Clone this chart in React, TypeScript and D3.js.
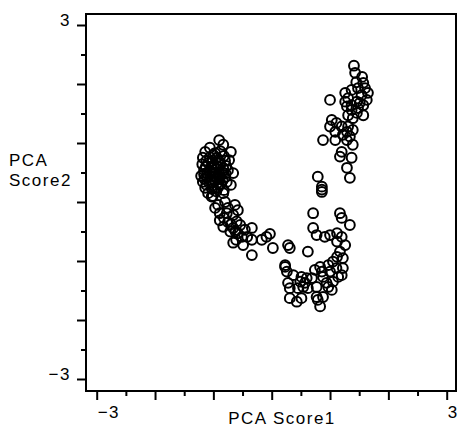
import * as d3 from 'd3'
import { useEffect, useRef } from 'react'

const W = 459
const H = 429

// axis ticks (every 0.5, labels only at the ends)
const majorTicks = [-3, -2, -1, 0, 1, 2, 3]
const minorTicks = [-2.5, -1.5, -0.5, 0.5, 1.5, 2.5]
const endLabels = [-3, 3]
const xTitle = 'PCA Score1'
const yTitle = ['PCA', 'Score2']

// scores, grouped by where they sit
const leftBlob: [number, number][] = [
  [-0.90, 1.05], [-0.83, 0.97], [-0.70, 0.85], [-1.14, 0.85], [-0.97, 0.83], [-1.06, 0.92],
  [-1.18, 0.75], [-1.06, 0.76], [-0.94, 0.75], [-0.82, 0.78], [-0.73, 0.71],
  [-1.19, 0.64], [-1.09, 0.66], [-0.99, 0.63], [-0.89, 0.66], [-0.78, 0.61],
  [-1.16, 0.54], [-1.06, 0.53], [-0.95, 0.56], [-0.85, 0.51], [-0.75, 0.54],
  [-1.21, 0.44], [-1.11, 0.42], [-1.01, 0.44], [-0.90, 0.41], [-0.80, 0.42],
  [-1.18, 0.34], [-1.07, 0.32], [-0.97, 0.36], [-0.87, 0.31], [-0.77, 0.34],
  [-1.14, 0.24], [-1.02, 0.22], [-0.92, 0.25], [-0.82, 0.20],
  [-0.66, 0.49], [-1.09, 0.15], [-0.83, 0.15], [-0.70, 0.29], [-1.01, 0.10],
  [-1.12, 0.70], [-1.01, 0.70], [-0.91, 0.71], [-0.80, 0.70], [-1.13, 0.60],
  [-1.03, 0.58], [-0.92, 0.60], [-0.83, 0.57], [-1.11, 0.49], [-1.00, 0.49],
  [-0.90, 0.47], [-0.79, 0.48], [-1.15, 0.39], [-1.04, 0.38], [-0.94, 0.39],
  [-0.84, 0.37], [-1.12, 0.29], [-1.01, 0.28], [-0.90, 0.29], [-0.95, 0.18],
  [-1.00, 0.80], [-0.88, 0.86], [-1.16, 0.47], [-0.97, 0.50],
]

const leftArm: [number, number][] = [
  [-1.03, 0.09], [-0.92, -0.05], [-0.80, 0.00], [-0.63, -0.05], [-0.97, -0.10],
  [-0.89, -0.19], [-0.77, -0.19], [-0.66, -0.22], [-0.89, -0.31], [-0.75, -0.34],
  [-0.60, -0.33], [-0.54, -0.39], [-0.83, -0.42], [-0.66, -0.44], [-0.71, -0.50],
  [-0.58, -0.53], [-0.51, -0.59], [-0.66, -0.69], [-0.49, -0.73], [-0.34, -0.44],
  [-0.34, -0.64], [-0.17, -0.64], [-0.09, -0.59], [-0.03, -0.54], [0.02, -0.78],
  [-0.34, -0.90], [0.23, -1.07], [0.28, -0.73], [0.31, -0.78],
  [-0.75, -0.10], [-0.58, -0.14], [-0.82, -0.27], [-0.46, -0.47], [-0.61, -0.64], [-0.42, -0.59],
  [-0.70, -0.38], [-0.62, -0.50],
]

const bottomBend: [number, number][] = [
  [0.71, -0.19], [1.17, -0.19], [1.20, -0.27], [1.34, -0.39], [0.71, -0.44],
  [0.77, -0.56], [0.91, -0.59], [1.00, -0.56], [1.12, -0.53], [1.20, -0.59],
  [1.12, -0.67], [1.26, -0.73], [1.17, -0.84], [1.12, -0.93], [1.22, -0.95],
  [0.62, -0.84], [1.05, -1.01], [0.97, -1.07], [0.83, -1.10], [0.74, -1.15],
  [0.86, -1.18], [1.00, -1.18], [1.11, -1.12], [1.14, -1.27], [1.05, -1.35],
  [0.97, -1.44], [1.03, -1.49], [0.88, -1.27], [0.26, -1.18], [0.37, -1.24],
  [0.51, -1.27], [0.60, -1.29], [0.69, -1.29], [0.57, -1.37], [0.49, -1.35],
  [0.62, -1.46], [0.28, -1.37], [0.31, -1.46], [0.45, -1.46], [0.77, -1.44],
  [0.31, -1.63], [0.43, -1.69], [0.51, -1.63], [0.79, -1.66], [0.88, -1.61],
  [0.83, -1.77], [0.94, -1.37], [1.20, -1.24], [1.22, -1.12], [0.23, -1.10],
  [0.54, -1.44], [0.77, -1.61],
]

const middle: [number, number][] = [
  [0.79, 0.43], [0.86, 0.26], [0.86, 0.17], [0.86, 0.21],
]

const rightArm: [number, number][] = [
  [1.41, 2.31], [1.43, 2.19], [1.55, 2.12], [1.45, 2.03], [1.57, 2.02],
  [1.37, 1.90], [1.48, 1.93], [1.60, 1.93], [1.65, 1.85], [1.54, 1.81],
  [1.26, 1.85], [1.31, 1.76], [1.63, 1.73], [1.46, 1.70], [1.26, 1.70],
  [1.51, 1.68], [1.37, 1.64], [1.00, 1.73], [1.29, 1.62], [1.48, 1.59],
  [1.57, 1.64], [1.37, 1.56], [1.46, 1.51], [1.57, 1.47], [1.31, 1.47],
  [1.39, 1.42], [1.03, 1.39], [1.11, 1.34], [1.00, 1.28], [1.20, 1.28],
  [1.31, 1.28], [1.09, 1.19], [1.29, 1.19], [1.39, 1.22], [1.22, 1.14],
  [1.34, 1.11], [0.88, 1.05], [1.09, 1.05], [1.29, 1.05], [1.39, 0.97],
  [1.20, 0.85], [1.17, 0.77], [1.37, 0.75], [1.29, 0.58], [1.34, 0.41],
]

function App() {
  const ref = useRef<SVGSVGElement>(null)

  useEffect(() => {
    const svg = d3.select(ref.current)
    svg.selectAll('*').remove()

    const x = d3.scaleLinear().domain([-3, 3]).range([96.7, 446.7])
    const y = d3.scaleLinear().domain([-3, 3]).range([379, 25])
    const font = '"Liberation Sans", Arial, sans-serif'

    // ticks: long at integers, short at halves
    const axL = (vals: number[], len: number) =>
      d3.axisLeft(y).tickValues(vals).tickSize(len).tickFormat(() => '')
    const axB = (vals: number[], len: number) =>
      d3.axisBottom(x).tickValues(vals).tickSize(len).tickFormat(() => '')

    const drawAxis = (g: any) => {
      g.select('.domain').remove()
      g.selectAll('line').attr('stroke', '#000').attr('stroke-width', 2)
    }
    svg.append('g').attr('transform', 'translate(86,0)').call(axL(majorTicks, 9)).call(drawAxis)
    svg.append('g').attr('transform', 'translate(86,0)').call(axL(minorTicks, 5)).call(drawAxis)
    svg.append('g').attr('transform', 'translate(0,391)').call(axB(majorTicks, 9)).call(drawAxis)
    svg.append('g').attr('transform', 'translate(0,391)').call(axB(minorTicks, 5)).call(drawAxis)

    svg.append('rect')
      .attr('x', 86).attr('y', 14).attr('width', 370).attr('height', 377)
      .attr('fill', 'none').attr('stroke', '#000').attr('stroke-width', 2)

    const txt = (s: string, tx: number, ty: number, anchor: string) =>
      svg.append('text').text(s)
        .attr('x', tx).attr('y', ty).attr('text-anchor', anchor)
        .attr('font-family', font).attr('font-size', 17)
        .attr('letter-spacing', 1.5).attr('fill', '#000')

    endLabels.forEach(v => {
      const s = v < 0 ? '\u2212' + Math.abs(v) : String(v)
      txt(s, 71, y(v) + 1, 'end')
      txt(s, x(v) + 1, 418, 'start')
    })
    txt(yTitle[0], 9, 166, 'start')
    txt(yTitle[1], 9, 186, 'start')
    txt(xTitle, 282, 424, 'middle')

    const all = [...leftBlob, ...leftArm, ...bottomBend, ...middle, ...rightArm]
    svg.append('g').selectAll('circle').data(all).enter().append('circle')
      .attr('cx', d => x(d[0])).attr('cy', d => y(d[1]))
      .attr('r', 4.9).attr('fill', 'none')
      .attr('stroke', '#000').attr('stroke-width', 2)
  }, [])

  return (
    <svg ref={ref} width={W} height={H}
      style={{ position: 'absolute', left: 0, top: 0, background: '#fff' }} />
  )
}

export default App
